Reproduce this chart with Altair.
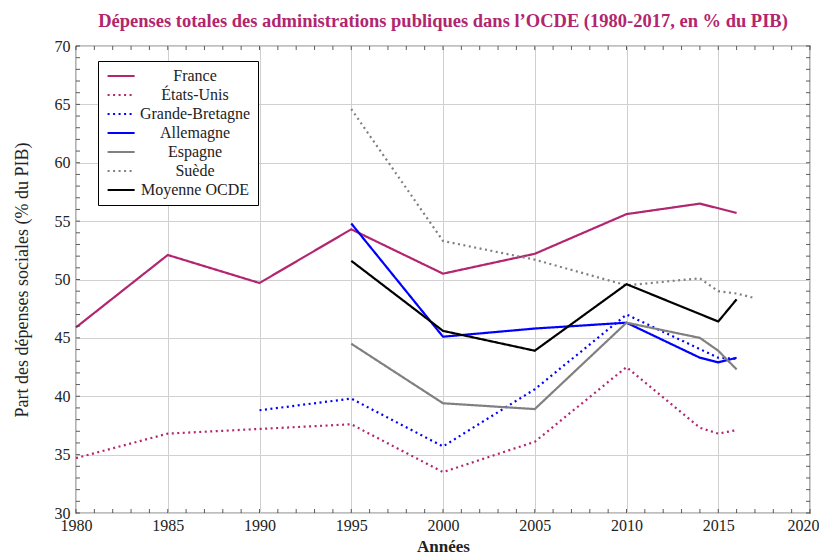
import altair as alt
import pandas as pd

# ---- data ----
countries = ["France", "États-Unis", "Grande-Bretagne", "Allemagne", "Espagne", "Suède", "Moyenne OCDE"]
colors = ["#b2256f", "#b2256f", "#0000ff", "#0000ff", "#808080", "#808080", "#000000"]
dashes = [[1, 0], [2, 3.5], [2, 3.5], [1, 0], [1, 0], [2, 3.5], [1, 0]]

years_fr = [1980, 1985, 1990, 1995, 2000, 2005, 2010, 2014, 2016]
france = [45.9, 52.1, 49.7, 54.3, 50.5, 52.2, 55.6, 56.5, 55.7]
years_us = [1980, 1985, 1990, 1995, 2000, 2005, 2010, 2014, 2015, 2016]
usa = [34.7, 36.8, 37.2, 37.6, 33.5, 36.1, 42.5, 37.3, 36.8, 37.1]
years_uk = [1990, 1995, 2000, 2005, 2010, 2015, 2016]
uk = [38.8, 39.8, 35.7, 40.6, 47.0, 43.3, 43.2]
years_de = [1995, 2000, 2005, 2010, 2014, 2015, 2016]
germany = [54.8, 45.1, 45.8, 46.3, 43.3, 42.9, 43.3]
years_es = [1995, 2000, 2005, 2010, 2014, 2015, 2016]
spain = [44.5, 39.4, 38.9, 46.3, 45.0, 43.9, 42.3]
years_se = [1995, 2000, 2005, 2010, 2014, 2015, 2016, 2017]
sweden = [64.6, 53.3, 51.7, 49.5, 50.1, 49.0, 48.8, 48.4]
years_oc = [1995, 2000, 2005, 2010, 2015, 2016]
oecd = [51.6, 45.6, 43.9, 49.6, 46.4, 48.3]

x_ticks = [1980, 1985, 1990, 1995, 2000, 2005, 2010, 2015, 2020]
y_ticks = [30, 35, 40, 45, 50, 55, 60, 65, 70]
x_minor = list(range(1980, 2021))
y_minor = list(range(30, 71))

series = [
    ("France", years_fr, france),
    ("États-Unis", years_us, usa),
    ("Grande-Bretagne", years_uk, uk),
    ("Allemagne", years_de, germany),
    ("Espagne", years_es, spain),
    ("Suède", years_se, sweden),
    ("Moyenne OCDE", years_oc, oecd),
]
rows = []
for name, ys, vs in series:
    for y, v in zip(ys, vs):
        rows.append({"pays": name, "annee": y, "valeur": v})
df = pd.DataFrame(rows)

W, H = 734, 467
FONT = "Liberation Serif"

xscale = alt.Scale(domain=[1980, 2020], nice=False, zero=False)
yscale = alt.Scale(domain=[30, 70], nice=False, zero=False)

legend = alt.Legend(
    title=None, orient="none", legendX=22, legendY=15,
    strokeColor="black", fillColor="white", padding=7,
    symbolType="M-1,0H4", symbolSize=117, symbolStrokeWidth=2.2,
    labelAlign="center", labelOffset=74, labelFontSize=16, labelFont=FONT,
    labelColor="#222", rowPadding=3, labelLimit=300,
)

lines = alt.Chart(df).mark_line(strokeWidth=2.2, strokeCap="butt").encode(
    x=alt.X("annee:Q", scale=xscale,
            axis=alt.Axis(values=x_ticks, format="d", title="Années", grid=True,
                          ticks=False, domain=False, labelPadding=4, labelFlush=False,
                          labelOffset=alt.condition("datum.value == 2020", alt.value(-7), alt.value(0)),
                          titlePadding=5, titleFontWeight="bold")),
    y=alt.Y("valeur:Q", scale=yscale,
            axis=alt.Axis(values=y_ticks, title="Part des dépenses sociales (% du PIB)",
                          grid=True, ticks=False, domain=False, labelPadding=6, labelFlush=False,
                          titlePadding=23, titleFontWeight="normal", titleFontSize=18)),
    color=alt.Color("pays:N", scale=alt.Scale(domain=countries, range=colors), legend=legend),
    strokeDash=alt.StrokeDash("pays:N", scale=alt.Scale(domain=countries, range=dashes), legend=legend),
    order=alt.value(0),
)

tick_color = "#333"
ymin_df = pd.DataFrame({"v": y_minor})
xmin_df = pd.DataFrame({"v": x_minor})

yl = alt.Chart(ymin_df).mark_rule(color=tick_color, strokeWidth=0.8).encode(
    y=alt.Y("v:Q", scale=yscale), x=alt.value(0), x2=alt.value(4))
yr = alt.Chart(ymin_df).mark_rule(color=tick_color, strokeWidth=0.8).encode(
    y=alt.Y("v:Q", scale=yscale), x=alt.value(W - 4), x2=alt.value(W))
xb = alt.Chart(xmin_df).mark_rule(color=tick_color, strokeWidth=0.8).encode(
    x=alt.X("v:Q", scale=xscale), y=alt.value(H - 4), y2=alt.value(H))
xt = alt.Chart(xmin_df).mark_rule(color=tick_color, strokeWidth=0.8).encode(
    x=alt.X("v:Q", scale=xscale), y=alt.value(0), y2=alt.value(4))

chart = alt.layer(lines, yl, yr, xb, xt).properties(
    width=W, height=H,
    title=alt.TitleParams(
        "Dépenses totales des administrations publiques dans l’OCDE (1980-2017, en % du PIB)",
        color="#b2256f", font=FONT, fontSize=18.5, fontWeight="bold", anchor="middle", offset=8),
    autosize=alt.AutoSizeParams(type="none"),
    padding={"left": 68, "top": 38, "right": 9, "bottom": 46},
).configure_view(stroke="black", strokeWidth=1.2).configure_axis(
    labelFont=FONT, titleFont=FONT, labelFontSize=16, titleFontSize=17,
    labelColor="#222", titleColor="#222", gridColor="#d0d0d0", gridWidth=1,
    labelOverlap=False,
)

chart.save("out.html", embed_options={"renderer": "svg", "actions": False})
